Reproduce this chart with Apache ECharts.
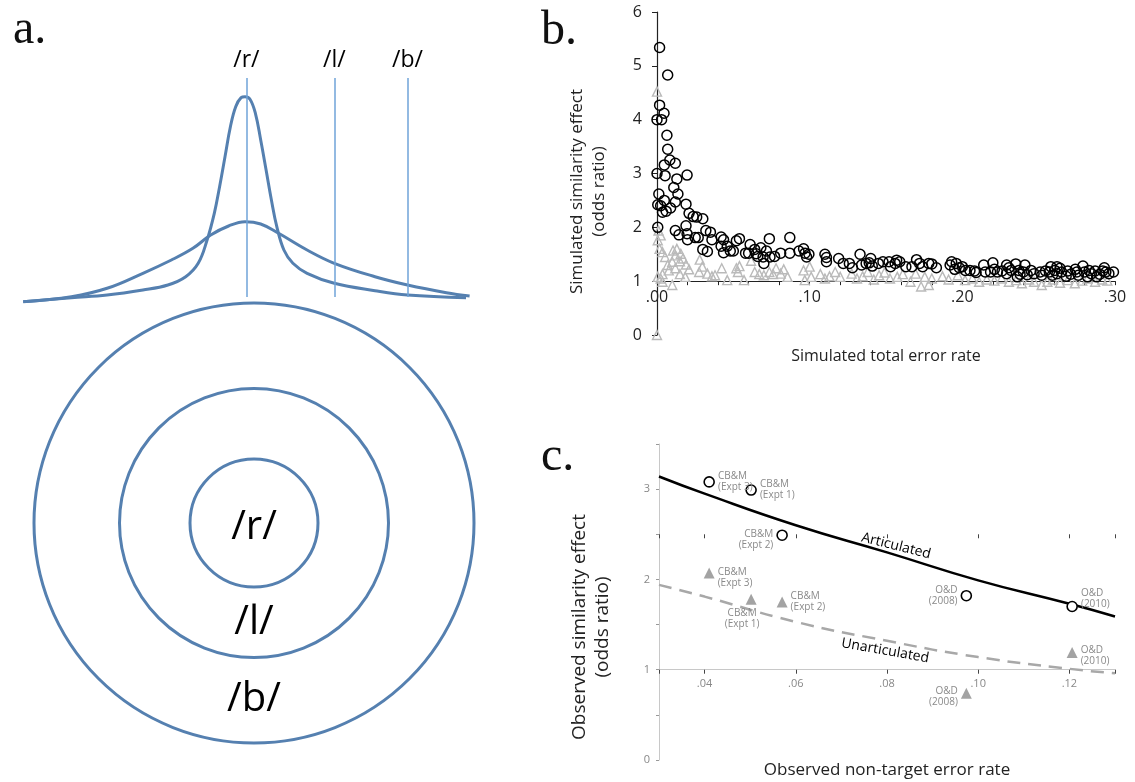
<!DOCTYPE html>
<html>
<head>
<meta charset="utf-8">
<script src="https://cdn.jsdelivr.net/npm/echarts@6/dist/echarts.min.js"></script>
<style>
html,body{margin:0;padding:0;background:#fff;}
#main{width:1135px;height:782px;}
</style>
</head>
<body>
<div id="main"></div>
<script>
// ---------- Panel a: perceptual distributions (schematic units) ----------
const narrowCurve = [[3.2,0.3],[51.4,4.3],[87.1,7],[122.9,12],[147.9,17],[165.7,25.3],[178.2,38.7],[187.1,62],[194.3,88.7],[199.6,115.3],[205,145.3],[210.4,175.3],[215.7,195.3],[221.1,204.3],[225,205.3],[230,202.7],[235.4,188.7],[240.7,162],[246.1,132],[251.4,102],[256.8,75.3],[263.9,52],[272.9,38.7],[287.1,28.7],[314.3,18.7],[355,11.3],[387.5,7],[446,4.3]];
const broadCurve = [[3.2,0.3],[51.4,5.3],[87.1,13.7],[122.9,28.7],[151.4,42],[172.9,53.7],[190.7,67],[208.6,76],[225,80.3],[240.7,78],[258.6,68.7],[287.1,52],[314.3,38.7],[355,25.3],[387.5,17],[426.4,9.3],[449.6,6]];
const phonemes = ['/r/','/l/','/b/'];
const phonemeX = [226.4, 314.3, 387.5];
const phonemeLineSpan = [5, 224];

// concentric category regions
const ringNames = ['/r/','/l/','/b/'];
const ringCenter = [254, 247];
const ringDiameters = [128, 269, 440];
const ringLabelY = [242, 147, 70];

// ---------- Panel b: simulated data ----------
const simArticulated = [
[0.0017,5.34],[0.007,4.83],[0,4.0],[0.003,4.0],[0.0017,4.27],[0.0046,4.12],[0.0065,3.71],[0.007,3.45],[0.0084,3.25],[0.0048,3.16],[0.012,3.19],
[0,3.0],[0.0053,2.96],[0.013,2.9],[0.0197,2.97],[0.011,2.74],[0.0012,2.62],[0.0137,2.62],[0.0048,2.5],[0.012,2.47],[0.0005,2.42],[0.0024,2.4],
[0.0089,2.36],[0.0036,2.28],[0.006,2.3],[0.019,2.43],[0.021,2.26],[0.0005,2.0],[0.019,2.03],[0.012,1.94],[0.0144,1.86],[0.020,1.77],[0.0197,1.88],
[0.0237,2.2],[0.026,2.19],[0.030,2.16],[0.025,1.81],[0.027,1.81],[0.030,1.59],[0.033,1.55],[0.032,1.94],[0.035,1.91],[0.036,1.77],[0.042,1.82],
[0.0436,1.77],[0.042,1.65],[0.046,1.65],[0.0436,1.53],[0.048,1.56],[0.050,1.56],[0.052,1.75],[0.054,1.79],[0.058,1.52],[0.060,1.52],[0.061,1.68],
[0.065,1.51],[0.064,1.59],[0.068,1.62],[0.066,1.46],[0.0695,1.45],[0.070,1.33],[0.0717,1.56],[0.0736,1.79],[0.074,1.45],[0.077,1.46],[0.081,1.52],
[0.087,1.52],[0.087,1.81],[0.093,1.56],[0.096,1.6],[0.097,1.52],[0.098,1.45],[0.0995,1.5],[0.110,1.5],[0.111,1.36],[0.111,1.44],[0.119,1.42],
[0.122,1.33],[0.126,1.33],[0.128,1.25],[0.133,1.5],[0.134,1.3],[0.137,1.33],[0.140,1.42],[0.139,1.34],[0.141,1.28],[0.145,1.33],[0.148,1.36],
[0.152,1.36],[0.153,1.27],[0.156,1.33],[0.157,1.39],[0.159,1.36],[0.163,1.27],[0.167,1.27],[0.170,1.4],[0.172,1.33],[0.174,1.27],[0.178,1.33],
[0.180,1.32],[0.183,1.25],[0.192,1.3],[0.193,1.36],[0.196,1.33],[0.195,1.22],[0.198,1.25],[0.200,1.27],[0.202,1.2],[0.205,1.2],[0.208,1.19],
[0.209,1.16],[0.214,1.3],[0.215,1.17],[0.2185,1.17],[0.220,1.34],[0.221,1.22],[0.223,1.17],[0.226,1.19],[0.229,1.3],[0.229,1.14],[0.232,1.2],
[0.235,1.32],[0.236,1.08],[0.237,1.2],[0.240,1.17],[0.241,1.3],[0.2425,1.12],[0.245,1.2],[0.247,1.14],[0.251,1.17],[0.2545,1.19],[0.258,1.27],
[0.259,1.11],[0.2605,1.2],[0.262,1.14],[0.264,1.24],[0.265,1.17],[0.268,1.09],[0.269,1.19],[0.271,1.13],[0.275,1.17],[0.276,1.11],[0.279,1.28],
[0.280,1.17],[0.282,1.08],[0.2845,1.14],[0.287,1.19],[0.288,1.08],[0.290,1.13],[0.293,1.25],[0.294,1.17],[0.296,1.14],[0.299,1.17],
[0.2305,1.25],[0.2378,1.13],[0.252,1.11],[0.257,1.17],[0.262,1.27],[0.274,1.22],[0.283,1.2],[0.292,1.19]
];
const simUnarticulated = [
[0,4.52],[0,0.0],[0.001,1.94],[0.0024,1.85],[0.0005,1.76],[0.0017,1.6],[0.0036,1.54],[0.0053,1.45],[0.007,1.3],[0.0105,1.57],[0.013,1.6],
[0.012,1.48],[0.0156,1.51],[0.017,1.42],[0.019,1.31],[0.015,1.37],[0.010,1.36],[0.012,1.24],[0.0077,1.2],[0.0036,1.13],[0.0005,1.08],[0.021,1.22],
[0.0185,1.08],[0.015,1.13],[0.010,0.93],[0.0024,1.05],[0.0036,0.99],[0.028,1.4],[0.0297,1.27],[0.0276,1.17],[0.033,1.14],[0.036,1.09],[0.038,1.11],
[0.0424,1.24],[0.046,1.02],[0.052,1.24],[0.054,1.28],[0.053,1.17],[0.057,1.02],[0.0616,1.38],[0.064,1.17],[0.067,1.13],[0.070,1.11],[0.0736,1.17],
[0.076,1.13],[0.078,1.24],[0.081,1.14],[0.083,1.22],[0.0855,1.08],[0.096,1.2],[0.100,1.27],[0.101,1.08],[0.0968,1.02],[0.107,1.13],[0.110,1.05],
[0.113,1.09],[0.1167,1.17],[0.120,1.08],[0.1275,1.14],[0.131,1.05],[0.1347,1.09],[0.138,1.17],[0.142,1.03],[0.1455,1.11],[0.149,1.16],[0.1526,1.05],
[0.1574,1.08],[0.161,1.13],[0.166,0.99],[0.1694,1.14],[0.173,0.9],[0.1754,1.08],[0.178,0.93],[0.180,1.05],[0.187,1.09],[0.191,1.03],[0.197,1.11],
[0.2018,1.02],[0.2066,1.05],[0.211,0.99],[0.216,1.03],[0.221,1.01],[0.2257,1.05],[0.2305,0.99],[0.2353,1.02],[0.239,0.96],[0.2437,1.03],[0.247,0.99],
[0.252,0.93],[0.2557,0.99],[0.2593,1.03],[0.264,0.97],[0.269,1.02],[0.2737,0.96],[0.2785,1.01],[0.282,1.05],[0.287,0.99],[0.2916,1.03],[0.295,1.01]
];

// ---------- Panel c: observed data ----------
const studyLabels = ['CB&M\n(Expt 3)','CB&M\n(Expt 1)','CB&M\n(Expt 2)','O&D\n(2008)','O&D\n(2010)'];
const obsErrorRate = [0.041, 0.0502, 0.057, 0.0974, 0.1206];
const obsArticulated = [3.08, 2.99, 2.49, 1.82, 1.70];
const obsUnarticulated = [2.07, 1.78, 1.75, 0.74, 1.19];
const fitX = [0.03, 0.04, 0.06, 0.08, 0.10, 0.12, 0.13];
const fitArticulated = [3.14, 2.95, 2.60, 2.30, 1.99, 1.73, 1.59];
const fitUnarticulated = [1.94, 1.81, 1.53, 1.32, 1.14, 1.01, 0.96];
const curveLabels = ['Articulated','Unarticulated'];
const curveLabelAt = [[0.082, 2.37], [0.0796, 1.21]];

// ---------- build ----------
const chart = echarts.init(document.getElementById('main'), null, {renderer:'canvas'});
const FONT = '"Open Sans", "Noto Sans", sans-serif';
const BLUE = '#5580b0';

const gridB = {left:657, right:20, top:12, bottom:447};
const gridBH = 782 - gridB.top - gridB.bottom;
const gridC = {left:659, right:20, top:444, bottom:22};
const gridCH = 782 - gridC.top - gridC.bottom;

const fmtB = v => { const k = Math.round(v*100); return (k % 10 === 0) ? '.' + String(k).padStart(2,'0') : ''; };
const fmtC = v => { const k = Math.round(v*100); return (Math.abs(v*100-k) < 1e-6 && k % 2 === 0) ? '.' + String(k).padStart(2,'0') : ''; };

// label placement for study points (styling only)
const artLabelPos = [{position:'right'},{position:'right'},{position:'left', offset:[0,4]},{position:'left'},{position:'right', offset:[0,-8]}];
const unaLabelPos = [{position:'right', offset:[0,5]},{position:'bottom', offset:[-9,0]},{position:'right'},{position:'left', offset:[0,3]},{position:'right', offset:[0,3]}];
const studyLabelStyle = {fontFamily:FONT, fontSize:10, color:'#8a8a8a', lineHeight:11, distance:3};
const serif = '"Liberation Serif", "DejaVu Serif", serif';

const option = {
  backgroundColor:'#fff',
  animation:false,
  title:[
    {text:'a.', left:8, top:1, textStyle:{fontFamily:serif, fontSize:48, fontWeight:'normal', color:'#111'}},
    {text:'b.', left:536, top:2, textStyle:{fontFamily:serif, fontSize:48, fontWeight:'normal', color:'#111'}},
    {text:'c.', left:536, top:428, textStyle:{fontFamily:serif, fontSize:48, fontWeight:'normal', color:'#111'}}
  ],
  grid:[
    {left:20, width:460, top:40, height:262},
    {left:0, width:520, top:290, height:480},
    gridB,
    gridC
  ],
  xAxis:[
    {gridIndex:0, type:'value', min:0, max:460, show:false},
    {gridIndex:1, type:'value', min:0, max:520, show:false},
    {gridIndex:2, type:'value', min:0, max:0.3, interval:0.02, offset:-gridBH/6,
      axisLine:{lineStyle:{color:'#222', width:1.2}},
      axisTick:{show:true, length:4, lineStyle:{color:'#222'}},
      axisLabel:{formatter:fmtB, fontFamily:FONT, fontSize:16, color:'#222', margin:8, hideOverlap:false},
      splitLine:{show:false},
      name:'Simulated total error rate', nameLocation:'middle', nameGap:67,
      nameTextStyle:{fontFamily:FONT, fontSize:16, color:'#222'}},
    {gridIndex:3, type:'value', min:0.03, max:0.13, splitNumber:5, offset:-gridCH/3.5,
      axisLine:{lineStyle:{color:'#c8c8c8', width:1}},
      axisTick:{show:true, length:4, lineStyle:{color:'#444', width:1}},
      axisLabel:{formatter:fmtC, fontFamily:FONT, fontSize:11, color:'#888', margin:9},
      splitLine:{show:false},
      name:'Observed non-target error rate', nameLocation:'middle', nameGap:92,
      nameTextStyle:{fontFamily:FONT, fontSize:17, color:'#222'}},
    {gridIndex:3, type:'value', min:0.03, max:0.13, splitNumber:5, offset:-gridCH/3.5,
      axisLine:{show:false},
      axisTick:{show:true, inside:true, length:4, lineStyle:{color:'#444', width:1}},
      axisLabel:{show:false}, splitLine:{show:false}}
  ],
  yAxis:[
    {gridIndex:0, type:'value', min:0, max:262, show:false},
    {gridIndex:1, type:'value', min:0, max:480, show:false},
    {gridIndex:2, type:'value', min:0, max:6, interval:1,
      axisLine:{show:true, lineStyle:{color:'#222', width:1.2}},
      axisTick:{show:true, length:5, lineStyle:{color:'#222'}},
      axisLabel:{fontFamily:FONT, fontSize:16, color:'#222', margin:15},
      splitLine:{show:false},
      name:'Simulated similarity effect\n(odds ratio)', nameLocation:'middle', nameGap:47,
      nameTextStyle:{fontFamily:FONT, fontSize:17, color:'#222', lineHeight:22, padding:[0,36,0,0]}},
    {gridIndex:3, type:'value', min:0, max:3.5,
      axisLine:{show:true, lineStyle:{color:'#c8c8c8', width:1}},
      axisTick:{show:true, length:3, lineStyle:{color:'#999'}},
      axisLabel:{formatter:v => Number.isInteger(v) ? String(v) : '', fontFamily:FONT, fontSize:11, color:'#888', margin:9},
      splitLine:{show:false},
      name:'Observed similarity effect\n(odds ratio)', nameLocation:'middle', nameGap:45,
      nameTextStyle:{fontFamily:FONT, fontSize:19, color:'#222', lineHeight:23, padding:[0,50,0,0]}}
  ],
  series:[
    {type:'line', xAxisIndex:0, yAxisIndex:0, data:narrowCurve, smooth:0.4, showSymbol:false, symbol:'none',
      lineStyle:{color:BLUE, width:3},
      markLine:{silent:true, symbol:['none','none'],
        lineStyle:{color:'#6fa3d8', width:1.5, type:'solid', opacity:1},
        label:{show:true, position:'end', formatter:p => p.name, fontFamily:FONT, fontSize:23, color:'#000', distance:6},
        data: phonemeX.map((x,i) => [{name:phonemes[i], coord:[x, phonemeLineSpan[0]]}, {coord:[x, phonemeLineSpan[1]]}])}},
    {type:'line', xAxisIndex:0, yAxisIndex:0, data:broadCurve, smooth:0.4, showSymbol:false, symbol:'none',
      lineStyle:{color:BLUE, width:3}},
    {type:'scatter', xAxisIndex:1, yAxisIndex:1, silent:true,
      data: ringDiameters.map((d,i) => ({name:ringNames[i], value:ringCenter, symbolSize:d})),
      symbol:'circle', itemStyle:{color:'rgba(0,0,0,0)', borderColor:BLUE, borderWidth:3, opacity:1}, z:2},
    {type:'scatter', xAxisIndex:1, yAxisIndex:1, silent:true, symbolSize:0,
      data: ringNames.map((n,i) => ({name:n, value:[ringCenter[0], ringLabelY[i]]})),
      itemStyle:{opacity:1},
      label:{show:true, position:'inside', formatter:p => p.name, fontFamily:FONT, fontSize:40, color:'#000'}},
    {type:'scatter', xAxisIndex:2, yAxisIndex:2, data:simUnarticulated, symbol:'triangle', symbolSize:9,
      itemStyle:{color:'rgba(0,0,0,0)', borderColor:'#bababa', borderWidth:1.4, opacity:1}, z:3},
    {type:'scatter', xAxisIndex:2, yAxisIndex:2, data:simArticulated, symbol:'circle', symbolSize:10,
      itemStyle:{color:'rgba(0,0,0,0)', borderColor:'#000', borderWidth:1.5, opacity:1}, z:4},
    {type:'line', xAxisIndex:3, yAxisIndex:3, data:fitX.map((x,i)=>[x, fitArticulated[i]]), smooth:true, showSymbol:false, symbol:'none',
      lineStyle:{color:'#000', width:2.5}, z:3},
    {type:'line', xAxisIndex:3, yAxisIndex:3, data:fitX.map((x,i)=>[x, fitUnarticulated[i]]), smooth:true, showSymbol:false, symbol:'none',
      lineStyle:{color:'#a8a8a8', width:2.5, type:[13,8]}, z:3},
    {type:'scatter', xAxisIndex:3, yAxisIndex:3, symbol:'circle', symbolSize:10,
      itemStyle:{color:'#fff', borderColor:'#000', borderWidth:1.6, opacity:1}, z:5,
      data: obsErrorRate.map((x,i)=>({name:studyLabels[i], value:[x, obsArticulated[i]],
        label:Object.assign({show:true, formatter:p=>p.name}, studyLabelStyle, artLabelPos[i])}))},
    {type:'scatter', xAxisIndex:3, yAxisIndex:3, symbol:'triangle', symbolSize:11,
      itemStyle:{color:'#a3a3a3', opacity:1}, z:5,
      data: obsErrorRate.map((x,i)=>({name:studyLabels[i], value:[x, obsUnarticulated[i]],
        label:Object.assign({show:true, formatter:p=>p.name}, studyLabelStyle, unaLabelPos[i])}))},
    {type:'scatter', xAxisIndex:3, yAxisIndex:3, symbolSize:0, silent:true, z:6,
      itemStyle:{opacity:1},
      data: curveLabels.map((n,i)=>({name:n, value:curveLabelAt[i],
        label:{show:true, position:'inside', formatter:p=>p.name, rotate: i===0 ? -14 : -10,
          fontFamily:FONT, fontSize:14, color:'#000'}}))}
  ]
};
chart.setOption(option);
</script>
</body>
</html>
